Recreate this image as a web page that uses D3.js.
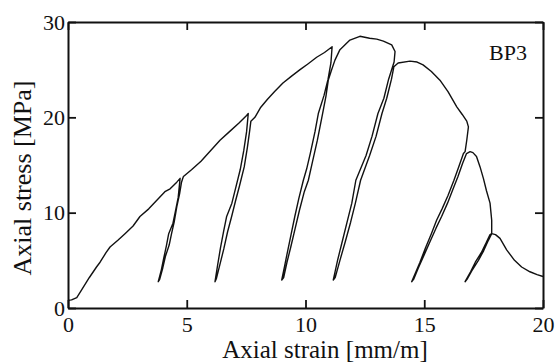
<!DOCTYPE html>
<html>
<head>
<meta charset="utf-8">
<script src="https://cdn.jsdelivr.net/npm/d3@7"></script>
<style>
  html, body { margin: 0; padding: 0; background: #fff; }
  text { font-family: "Liberation Serif", "Times New Roman", serif; fill: #111; }
</style>
</head>
<body>
<script>
// stress-strain curve of specimen BP3 [strain mm/m, stress MPa]
const initialLoading = [[0, 0.8], [0.15, 0.85], [0.37, 1.1], [0.6, 2.0], [0.9, 3.2], [1.2, 4.3], [1.35, 4.8], [1.6, 5.8], [1.77, 6.4], [2.1, 7.1], [2.4, 7.8], [2.74, 8.6], [3.03, 9.6], [3.4, 10.4], [3.74, 11.3], [4.08, 12.2], [4.3, 12.5], [4.58, 13.2], [4.72, 13.6]]
const cycle1Unload = [[4.72, 13.6], [4.64, 11.6], [4.52, 10.1], [4.42, 8.9], [4.24, 7.8], [4.14, 6.5], [4.02, 5.1], [3.93, 4.0], [3.8, 2.76]]
const cycle1Reload = [[3.86, 3.0], [3.99, 4.2], [4.1, 5.4], [4.26, 6.6], [4.36, 7.8], [4.47, 9.0], [4.58, 10.6], [4.7, 12.0], [4.78, 13.2], [4.82, 13.5]]
const envelope2 = [[4.86, 13.8], [5.2, 14.5], [5.6, 15.4], [6.0, 16.5], [6.4, 17.6], [6.8, 18.5], [7.2, 19.4], [7.52, 20.2], [7.59, 20.4]]
const cycle2Unload = [[7.59, 20.4], [7.52, 18.5], [7.4, 16.5], [7.25, 14.5], [7.05, 12.5], [6.9, 11.0], [6.68, 9.6], [6.55, 8.0], [6.42, 6.3], [6.3, 4.5], [6.19, 2.76]]
const cycle2Reload = [[6.25, 3.1], [6.4, 4.6], [6.56, 6.2], [6.72, 8.0], [6.89, 9.6], [7.05, 11.2], [7.22, 12.8], [7.42, 14.8], [7.55, 16.8], [7.65, 18.6], [7.7, 19.6]]
const envelope3 = [[7.87, 20.0], [8.1, 21.0], [8.4, 21.9], [8.7, 22.7], [9.05, 23.6], [9.4, 24.3], [9.77, 25.0], [10.1, 25.6], [10.47, 26.3], [10.8, 26.8], [11.12, 27.4]]
const cycle3Unload = [[11.07, 25.7], [10.95, 24.0], [10.78, 22.3], [10.54, 20.4], [10.4, 18.5], [10.2, 16.2], [10.05, 14.6], [9.91, 13.4], [9.72, 11.5], [9.55, 9.6], [9.4, 7.8], [9.25, 6.0], [9.12, 4.4], [9.0, 2.94]]
const cycle3Reload = [[9.08, 3.2], [9.22, 4.8], [9.38, 6.4], [9.55, 8.2], [9.74, 10.2], [9.95, 12.2], [10.12, 13.4], [10.3, 15.4], [10.5, 17.6], [10.72, 20.4], [10.86, 22.2], [10.96, 23.9], [11.1, 25.0], [11.24, 26.0]]
const envelope4 = [[11.45, 27.1], [11.87, 28.1], [12.29, 28.5], [12.7, 28.3], [13.0, 28.2], [13.28, 28.0], [13.63, 27.6], [13.77, 26.9], [13.73, 25.8]]
const cycle4Unload = [[13.73, 25.8], [13.5, 24.0], [13.3, 22.0], [13.05, 20.4], [12.8, 18.0], [12.55, 16.0], [12.12, 13.4], [11.95, 11.0], [11.75, 9.0], [11.55, 7.0], [11.35, 5.0], [11.17, 2.94]]
const cycle4Reload = [[11.25, 3.2], [11.45, 5.0], [11.68, 7.0], [11.9, 9.0], [12.1, 11.0], [12.32, 13.4], [12.7, 16.0], [12.97, 18.0], [13.22, 20.4], [13.42, 22.0], [13.62, 24.0], [13.72, 25.3], [13.9, 25.7]]
const envelope5 = [[14.4, 25.9], [14.7, 25.8], [14.95, 25.5], [15.3, 24.8], [15.66, 23.9], [16.0, 22.7], [16.37, 21.1], [16.6, 20.3], [16.79, 19.6], [16.86, 19.0], [16.82, 18.2], [16.79, 17.6], [16.72, 16.4]]
const cycle5Unload = [[16.65, 16.2], [16.45, 14.8], [16.25, 13.4], [16.0, 11.8], [15.75, 10.4], [15.52, 9.2], [15.3, 7.8], [15.05, 6.3], [14.82, 4.8], [14.65, 3.8], [14.47, 2.76]]
const cycle5Reload = [[14.55, 3.0], [14.75, 4.2], [15.0, 5.6], [15.25, 7.0], [15.5, 8.4], [15.73, 9.6], [15.98, 11.0], [16.2, 12.4], [16.42, 13.8], [16.62, 15.2], [16.78, 16.2], [16.93, 16.4]]
const envelope6 = [[17.05, 16.3], [17.2, 15.9], [17.35, 14.8], [17.49, 13.6], [17.62, 12.3], [17.77, 11.0], [17.84, 9.2], [17.84, 7.8]]
const cycle6Unload = [[17.77, 7.7], [17.6, 6.8], [17.4, 5.8], [17.15, 4.8], [16.95, 3.8], [16.72, 2.76]]
const cycle6Reload = [[16.8, 3.0], [17.0, 3.9], [17.28, 5.0], [17.5, 6.0], [17.7, 7.1], [17.84, 7.8]]
const postPeakTail = [[18.0, 7.7], [18.19, 7.3], [18.47, 6.1], [18.8, 5.0], [19.1, 4.3], [19.45, 3.8], [19.75, 3.5], [20, 3.3]]

const xTicks = [0, 5, 10, 15, 20]
const yTicks = [0, 10, 20, 30]
const specimen = 'BP3'

const width = 557
const height = 363
const margin = { top: 22, right: 14, bottom: 55, left: 68 }

const svg = d3.select('body').append('svg').attr('width', width).attr('height', height)

const x = d3.scaleLinear().domain([0, 20]).range([margin.left, width - margin.right])
const y = d3.scaleLinear().domain([0, 30]).range([height - margin.bottom, margin.top])

// whole test in loading order
const curve = [].concat(
	initialLoading, cycle1Unload, cycle1Reload, envelope2,
	cycle2Unload, cycle2Reload, envelope3,
	cycle3Unload, cycle3Reload, envelope4,
	cycle4Unload, cycle4Reload, envelope5,
	cycle5Unload, cycle5Reload, envelope6,
	cycle6Unload, cycle6Reload, postPeakTail
)

const line = d3.line().x(d => x(d[0])).y(d => y(d[1]))

svg.append('path')
	.datum(curve)
	.attr('d', line)
	.attr('fill', 'none')
	.attr('stroke', '#111')
	.attr('stroke-width', 1.4)
	.attr('stroke-linejoin', 'round')

// inward ticks on all four sides
const tickLen = 8
const xAxisBottom = svg.append('g').attr('transform', `translate(0,${y(0)})`)
	.call(d3.axisBottom(x).tickValues(xTicks).tickSizeInner(-tickLen).tickSizeOuter(0).tickPadding(8))
const xAxisTop = svg.append('g').attr('transform', `translate(0,${y(30)})`)
	.call(d3.axisTop(x).tickValues(xTicks).tickSizeInner(-tickLen).tickSizeOuter(0).tickFormat(''))
const yAxisLeft = svg.append('g').attr('transform', `translate(${x(0)},0)`)
	.call(d3.axisLeft(y).tickValues(yTicks).tickSizeInner(-tickLen).tickSizeOuter(0).tickPadding(5))
const yAxisRight = svg.append('g').attr('transform', `translate(${x(20)},0)`)
	.call(d3.axisRight(y).tickValues(yTicks).tickSizeInner(-tickLen).tickSizeOuter(0).tickFormat(''))

;[xAxisBottom, xAxisTop, yAxisLeft, yAxisRight].forEach(g => {
	g.select('.domain').attr('stroke', '#111').attr('stroke-width', 2)
	g.selectAll('.tick line').attr('stroke', '#111').attr('stroke-width', 1.8)
	g.selectAll('.tick text')
		.style('font-family', '"Liberation Serif", serif')
		.style('font-size', '22px')
		.attr('fill', '#111')
})
xAxisBottom.selectAll('.tick text').attr('dy', '0.71em')
yAxisLeft.selectAll('.tick text').attr('dx', '2')

svg.append('text')
	.attr('x', 325)
	.attr('y', 358)
	.attr('text-anchor', 'middle')
	.style('font-size', '25px')
	.text('Axial strain [mm/m]')

svg.append('text')
	.attr('transform', 'translate(31,178) rotate(-90)')
	.attr('text-anchor', 'middle')
	.style('font-size', '26px')
	.text('Axial stress [MPa]')

svg.append('text')
	.attr('x', 527)
	.attr('y', 60)
	.attr('text-anchor', 'end')
	.style('font-size', '22px')
	.text(specimen)
</script>
</body>
</html>
